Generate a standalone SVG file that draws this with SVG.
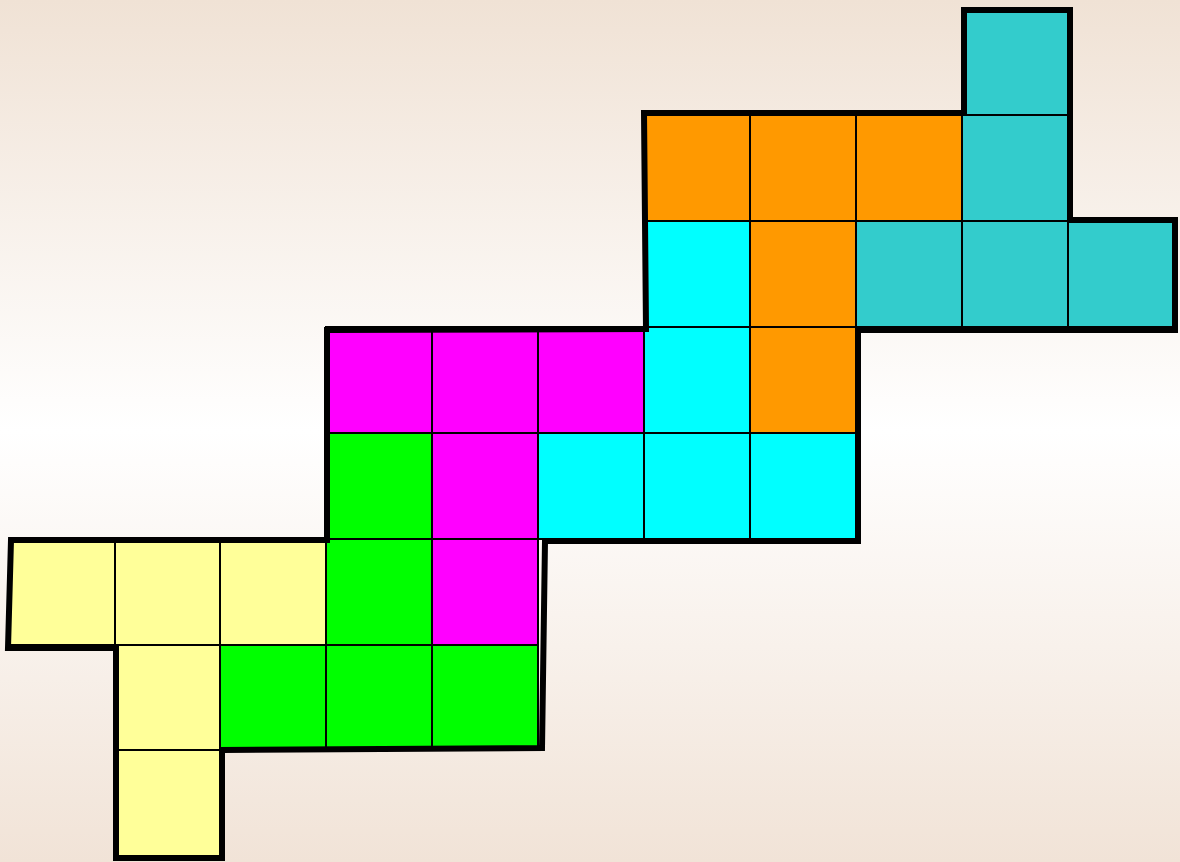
<svg xmlns="http://www.w3.org/2000/svg" width="1180" height="862" viewBox="0 0 1180 862">
<defs>
<linearGradient id="bg" x1="0" y1="0" x2="0" y2="1">
<stop offset="0" stop-color="#F0E2D5"/>
<stop offset="0.5" stop-color="#FFFFFF"/>
<stop offset="1" stop-color="#F1E3D7"/>
</linearGradient>
<style>
rect.c{stroke:#000;stroke-width:2}
.y{fill:#FFFF99}.g{fill:#00FF00}.m{fill:#FF00FF}.cy{fill:#00FFFF}.o{fill:#FF9900}.t{fill:#33CCCC}
.outline{fill:none;stroke:#000;stroke-width:6;stroke-linejoin:miter}
</style>
</defs>
<rect width="1180" height="862" fill="url(#bg)"/>
<g id="yellow">
<rect class="c y" x="10" y="539" width="105" height="106"/>
<rect class="c y" x="115" y="539" width="105" height="106"/>
<rect class="c y" x="220" y="539" width="106" height="106"/>
<rect class="c y" x="115" y="645" width="105" height="105"/>
<rect class="c y" x="115" y="750" width="105" height="106"/>
</g>
<g id="green">
<rect class="c g" x="326" y="433" width="106" height="106"/>
<rect class="c g" x="326" y="539" width="106" height="106"/>
<rect class="c g" x="220" y="645" width="106" height="105"/>
<rect class="c g" x="326" y="645" width="106" height="105"/>
<rect class="c g" x="432" y="645" width="106" height="105"/>
</g>
<g id="magenta">
<rect class="c m" x="326" y="327" width="106" height="106"/>
<rect class="c m" x="432" y="327" width="106" height="106"/>
<rect class="c m" x="538" y="327" width="106" height="106"/>
<rect class="c m" x="432" y="433" width="106" height="106"/>
<rect class="c m" x="432" y="539" width="106" height="106"/>
</g>
<g id="cyan">
<rect class="c cy" x="644" y="221" width="106" height="106"/>
<rect class="c cy" x="644" y="327" width="106" height="106"/>
<rect class="c cy" x="538" y="433" width="106" height="106"/>
<rect class="c cy" x="644" y="433" width="106" height="106"/>
<rect class="c cy" x="750" y="433" width="106" height="106"/>
</g>
<g id="orange">
<rect class="c o" x="644" y="115" width="106" height="106"/>
<rect class="c o" x="750" y="115" width="106" height="106"/>
<rect class="c o" x="856" y="115" width="106" height="106"/>
<rect class="c o" x="750" y="221" width="106" height="106"/>
<rect class="c o" x="750" y="327" width="106" height="106"/>
</g>
<g id="teal">
<rect class="c t" x="962" y="10" width="106" height="105"/>
<rect class="c t" x="962" y="115" width="106" height="106"/>
<rect class="c t" x="856" y="221" width="106" height="106"/>
<rect class="c t" x="962" y="221" width="106" height="106"/>
<rect class="c t" x="1068" y="221" width="106" height="106"/>
</g>
<g id="outline">
<polygon class="outline" points="964,10 1070,10 1070,220 1175,220 1175,330 858,330 858,541 545,541 542,748 222,750 222,858 116,858 116,648 8,648 11,540 327,540 327,330 646,329 644,113 964,113"/>
</g>
</svg>
